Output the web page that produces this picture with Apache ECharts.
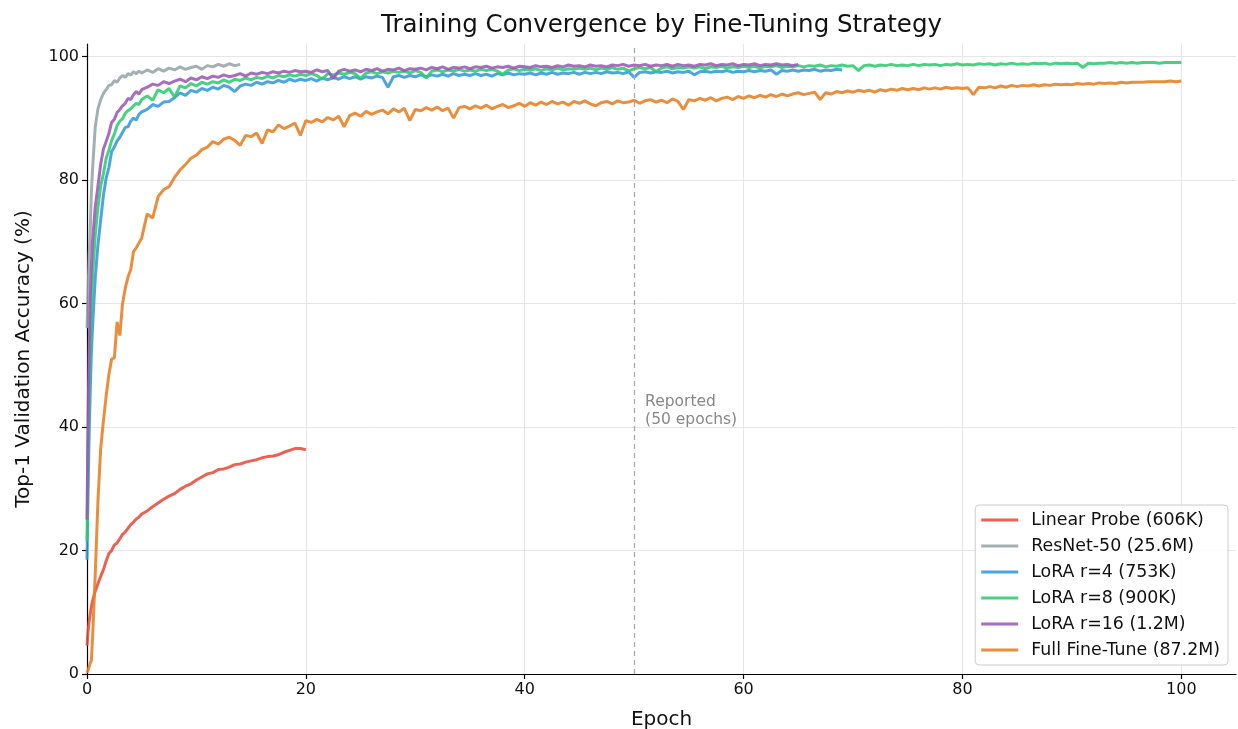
<!DOCTYPE html>
<html>
<head>
<meta charset="utf-8">
<script src="https://cdn.jsdelivr.net/npm/echarts@6/dist/echarts.min.js"></script>
<style>
html,body{margin:0;padding:0;background:#fff;}
#chart{width:1238px;height:729px;}
</style>
</head>
<body>
<div id="chart"></div>
<script>
// ---- data ----
const seriesNames = ['Linear Probe (606K)', 'ResNet-50 (25.6M)', 'LoRA r=4 (753K)', 'LoRA r=8 (900K)', 'LoRA r=16 (1.2M)', 'Full Fine-Tune (87.2M)'];
const xTicks = [0, 20, 40, 60, 80, 100];
const yTicks = [0, 20, 40, 60, 80, 100];

// evaluation schedule (epochs): dense at start, every 0.5 epoch later
const earlyEpochs = [0, 0.1, 0.2, 0.3, 0.4, 0.5];
const epochGrid = earlyEpochs.slice();
for (let i = 3; i <= 20; i++) epochGrid.push(i * 0.25);
for (let i = 11; i <= 200; i++) epochGrid.push(i * 0.5);

const linearProbe = [4.6,7.0,8.6,9.8,10.9,11.8,
 13.4,14.6,15.8,16.9,18.3,19.5,20.0,20.9,21.2,21.9,22.6,23.0,23.6,24.2,24.6,25.1,25.4,25.9,
 26.4,27.1,27.7,28.3,28.8,29.2,29.9,30.4,30.8,31.4,31.9,32.4,32.6,33.1,33.2,33.5,33.9,34.0,34.3,34.5,
 34.7,35.0,35.2,35.3,35.5,35.9,36.2,36.5,36.5,36.3];

const resnet50 = [56,62,68,72,78,81.5,
 88.5,91.5,93.0,94.0,94.6,95.3,95.4,96.1,95.8,96.5,96.9,96.6,97.2,97.0,97.5,97.2,97.6,97.3,
 97.8,97.4,98.0,97.6,98.1,97.8,98.3,97.9,98.2,98.4,97.9,98.5,98.3,98.7,98.4,98.8,98.5,98.7];

const loraR4 = [18.5,30,39,46,52,56,
 64,69.5,73.5,77.5,80.3,82.0,84.6,85.3,86.3,86.9,87.7,88.5,88.6,89.5,90.0,89.7,90.6,91.0,
 91.4,92.2,91.9,92.6,92.7,93.3,94.1,93.7,94.5,94.2,94.8,94.5,95.0,94.7,95.3,95.0,94.3,95.2,95.5,95.3,
 95.8,95.5,95.9,95.7,96.1,95.8,96.3,96.0,96.3,96.1,96.4,96.0,96.5,96.2,96.6,96.3,96.7,96.4,96.7,96.3,
 96.7,96.5,96.8,96.6,95.0,96.7,96.9,96.6,96.9,96.7,97.0,96.7,97.0,96.8,97.1,96.8,97.2,96.9,97.1,96.9,
 97.2,96.9,97.1,96.8,97.2,97.0,97.3,97.0,97.2,97.1,97.3,97.0,97.3,97.1,97.4,97.1,97.3,97.2,97.4,97.1,
 97.4,97.2,97.4,97.2,97.5,97.3,97.4,97.2,97.5,96.6,97.4,97.5,97.3,97.5,97.4,97.6,97.3,97.5,97.4,97.6,
 97.0,97.5,97.6,97.4,97.6,97.5,97.7,97.4,97.6,97.5,97.7,97.5,97.7,97.6,97.8,97.1,97.7,97.6,97.8,97.6,
 97.8,97.7,97.9,97.6,97.8,97.7,97.9,97.8];

const loraR8 = [21.5,36,46,54,60,64,
 71,75.5,79,81,83.5,84.8,86.4,87.4,88.8,89.5,89.9,90.8,91.2,91.5,92.0,92.4,92.2,93.0,
 93.6,92.9,94.6,94.1,94.8,93.4,95.2,94.9,95.6,95.2,95.8,95.5,95.9,95.7,96.2,95.8,96.3,96.1,96.5,96.2,
 96.6,96.4,96.8,96.5,96.9,96.7,97.0,96.8,97.1,96.9,97.2,96.9,96.3,97.2,97.0,97.3,97.1,97.4,97.2,96.4,
 97.3,97.5,97.2,97.5,97.3,97.6,97.4,97.6,97.3,97.7,97.4,96.5,97.6,97.8,97.5,97.8,97.6,97.9,97.6,97.8,
 97.6,97.9,97.7,97.9,97.6,97.1,97.8,98.0,97.7,97.9,97.8,98.0,97.7,98.0,97.8,98.1,97.8,98.0,97.9,98.1,
 97.9,98.1,97.8,98.1,97.9,98.2,97.9,98.1,97.6,98.0,98.2,98.0,98.2,97.5,98.1,98.3,98.0,98.2,98.1,98.3,
 98.1,98.3,98.0,98.3,98.2,98.4,98.1,98.3,98.2,98.4,98.2,98.4,98.1,98.4,98.3,98.5,98.2,98.4,98.3,98.5,
 98.3,98.5,98.4,98.6,98.3,98.5,98.4,98.6,98.4,98.5,97.7,98.5,98.6,98.4,98.6,98.5,98.7,98.5,98.6,98.5,
 98.7,98.5,98.7,98.6,98.7,98.5,98.7,98.6,98.8,98.6,98.7,98.6,98.8,98.7,98.8,98.6,98.8,98.7,98.9,98.7,
 98.8,98.7,98.9,98.8,98.9,98.7,98.9,98.8,98.9,98.8,98.9,98.2,98.9,98.8,98.9,98.9,99.0,98.9,99.0,98.9,
 99.0,98.9,99.0,99.0,99.0,98.9,99.0,99.0,99.0,99.0];

const loraR16 = [25,42,53,61,66,70,
 75.5,79,82.5,85,86.2,87.5,89.3,89.8,90.9,91.4,92.0,92.4,93.2,93.0,93.8,94.3,93.9,94.6,
 95.0,95.5,95.3,95.9,95.6,96.0,96.3,95.9,96.5,96.2,96.7,96.4,96.8,96.6,97.0,96.7,96.9,97.2,96.8,97.3,
 97.1,97.4,97.2,97.5,97.3,97.6,97.4,97.7,97.5,97.6,97.4,97.8,97.5,97.7,96.4,97.6,97.9,97.6,97.8,97.5,
 97.9,97.7,98.0,97.6,97.9,97.8,98.1,97.7,98.0,97.9,98.1,97.8,98.2,98.0,98.3,97.9,98.2,98.1,98.3,98.0,
 98.3,98.2,98.4,98.1,98.3,98.2,98.4,98.1,98.4,98.3,98.2,98.5,98.3,98.4,98.2,98.5,98.3,98.6,98.4,98.5,
 98.3,98.6,98.4,98.5,98.3,98.6,98.5,98.7,98.4,98.6,98.5,98.7,98.4,98.6,98.5,98.7,98.4,98.7,98.5,98.6,
 98.4,98.7,98.6,98.8,98.5,98.7,98.6,98.8,98.5,98.7,98.6,98.8,98.5,98.7,98.6,98.8,98.6,98.7,98.5,98.7];

const fullFineTune = [0.2,0.6,1.2,1.8,2.2,5.5,
 16,28,36.5,41,45,48.5,51.0,51.2,57.0,54.8,60.0,62.5,64.3,65.5,68.4,69.0,69.8,70.6,
 74.5,73.8,77.3,78.4,78.9,80.4,81.6,82.5,83.5,84.0,84.9,85.3,86.2,85.8,86.6,86.9,86.4,85.6,87.2,87.0,
 87.6,85.9,88.1,87.8,88.9,88.3,88.7,89.2,87.2,89.6,89.3,89.8,89.4,90.1,89.7,90.3,88.6,90.4,90.8,90.3,
 91.1,90.6,91.0,91.3,90.7,91.5,91.0,91.6,89.6,91.4,91.2,91.7,91.3,91.8,91.2,91.6,90.0,91.7,91.9,91.5,
 92.0,91.6,92.1,91.5,91.9,92.2,91.7,92.0,92.4,91.9,92.5,92.1,92.6,92.2,92.7,92.3,92.6,92.1,92.7,92.4,
 92.8,92.3,92.0,92.5,92.7,92.3,92.8,92.5,92.6,92.9,92.4,92.8,93.0,92.6,92.9,92.5,93.1,92.7,91.4,93.0,
 92.8,93.2,92.9,93.3,92.8,93.2,93.4,93.0,93.5,93.2,93.6,93.3,93.7,93.4,93.8,93.5,93.9,93.6,93.9,94.1,
 93.8,94.0,94.2,93.0,94.1,93.9,94.3,94.1,94.4,94.2,94.5,94.3,94.5,94.2,94.6,94.4,94.7,94.5,94.8,94.6,
 94.8,94.6,94.9,94.7,94.9,94.7,95.0,94.8,94.9,94.8,94.9,93.8,95.0,94.9,95.1,94.9,95.2,95.0,95.3,95.1,
 95.3,95.2,95.4,95.2,95.4,95.3,95.5,95.4,95.5,95.4,95.6,95.5,95.6,95.5,95.7,95.6,95.7,95.6,95.8,95.7,
 95.8,95.8,95.8,95.9,95.9,95.9,95.9,96.0,95.9,96.0];

const seriesValues = [linearProbe, resnet50, loraR4, loraR8, loraR16, fullFineTune];
const reportedEpoch = 50;
const reportedLabel = 'Reported\n(50 epochs)';
const titleText = 'Training Convergence by Fine-Tuning Strategy';

// ---- styles ----
const colors = ['#e74c3c', '#95a5a6', '#3498db', '#2ecc71', '#9b59b6', '#e67e22'];
const FONT = 'DejaVu Sans';

function pairs(vals) { return vals.map((v, i) => [epochGrid[i], v]); }

const chart = echarts.init(document.getElementById('chart'), null, {renderer: 'canvas'});

const series = seriesNames.map((name, k) => ({
  name: name,
  type: 'line',
  data: pairs(seriesValues[k]),
  showSymbol: false,
  symbol: 'none',
  lineStyle: {width: 3, color: colors[k], opacity: 0.88},
  itemStyle: {color: colors[k], opacity: 0.88},
  z: 2 + k,
  emphasis: {disabled: true}
}));
series[0].markLine = {
  silent: true,
  symbol: 'none',
  label: {show: false},
  lineStyle: {type: [5, 4], color: '#aaaaaa', width: 1.3},
  data: [{xAxis: reportedEpoch}]
};

const gridLineColors = ['#e6e6e6', '#e6e6e6', '#e6e6e6', '#e6e6e6', '#e6e6e6', '#e6e6e6', 'rgba(0,0,0,0)'];

chart.setOption({
  animation: false,
  backgroundColor: '#ffffff',
  grid: {left: 87, right: 2, top: 44, bottom: 55, containLabel: false, outerBoundsMode: 'none'},
  xAxis: {
    type: 'value', min: 0, max: 105, interval: 20,
    name: 'Epoch', nameLocation: 'middle', nameGap: 36,
    nameTextStyle: {fontFamily: FONT, fontSize: 20, color: '#111'},
    axisLine: {show: true, onZero: false, lineStyle: {color: '#000', width: 1.2}},
    axisTick: {show: true, length: 5, lineStyle: {color: '#000', width: 1.2}, customValues: xTicks},
    axisLabel: {fontFamily: FONT, fontSize: 16, color: '#111', margin: 8, customValues: xTicks},
    splitLine: {show: true, lineStyle: {color: gridLineColors, width: 1}}
  },
  yAxis: {
    type: 'value', min: 0, max: 102, interval: 20,
    name: 'Top-1 Validation Accuracy (%)', nameLocation: 'middle', nameGap: 53, nameRotate: 90,
    nameTextStyle: {fontFamily: FONT, fontSize: 20, color: '#111'},
    axisLine: {show: true, onZero: false, lineStyle: {color: '#000', width: 1.2}},
    axisTick: {show: true, length: 5, lineStyle: {color: '#000', width: 1.2}, customValues: yTicks},
    axisLabel: {fontFamily: FONT, fontSize: 16, color: '#111', margin: 8, customValues: yTicks},
    splitLine: {show: true, lineStyle: {color: gridLineColors, width: 1}}
  },
  legend: {
    data: seriesNames.map(n => ({name: n, icon: 'rect'})),
    orient: 'vertical',
    right: 10, bottom: 64,
    padding: [6, 8, 6, 6],
    itemWidth: 37, itemHeight: 3, itemGap: 8,
    backgroundColor: 'rgba(255,255,255,0.85)',
    borderColor: '#cccccc', borderWidth: 1, borderRadius: 4,
    textStyle: {fontFamily: FONT, fontSize: 17.4, color: '#111', lineHeight: 18, padding: [0, 0, 0, 8]},
    selectedMode: false
  },
  series: series
});

const p = chart.convertToPixel({gridIndex: 0}, [reportedEpoch + 1, 45.55]);
chart.setOption({
  graphic: [
    {type: 'text', x: 661.5, y: 26, silent: true,
     style: {text: titleText, font: '24.5px "DejaVu Sans"', fill: '#111', textAlign: 'center', textVerticalAlign: 'middle'}},
    {type: 'text', x: p[0], y: p[1], silent: true,
     style: {text: reportedLabel, font: '15.5px "DejaVu Sans"', fill: '#888888', textAlign: 'left', textVerticalAlign: 'top', lineHeight: 18}}
  ]
});
</script>
</body>
</html>
